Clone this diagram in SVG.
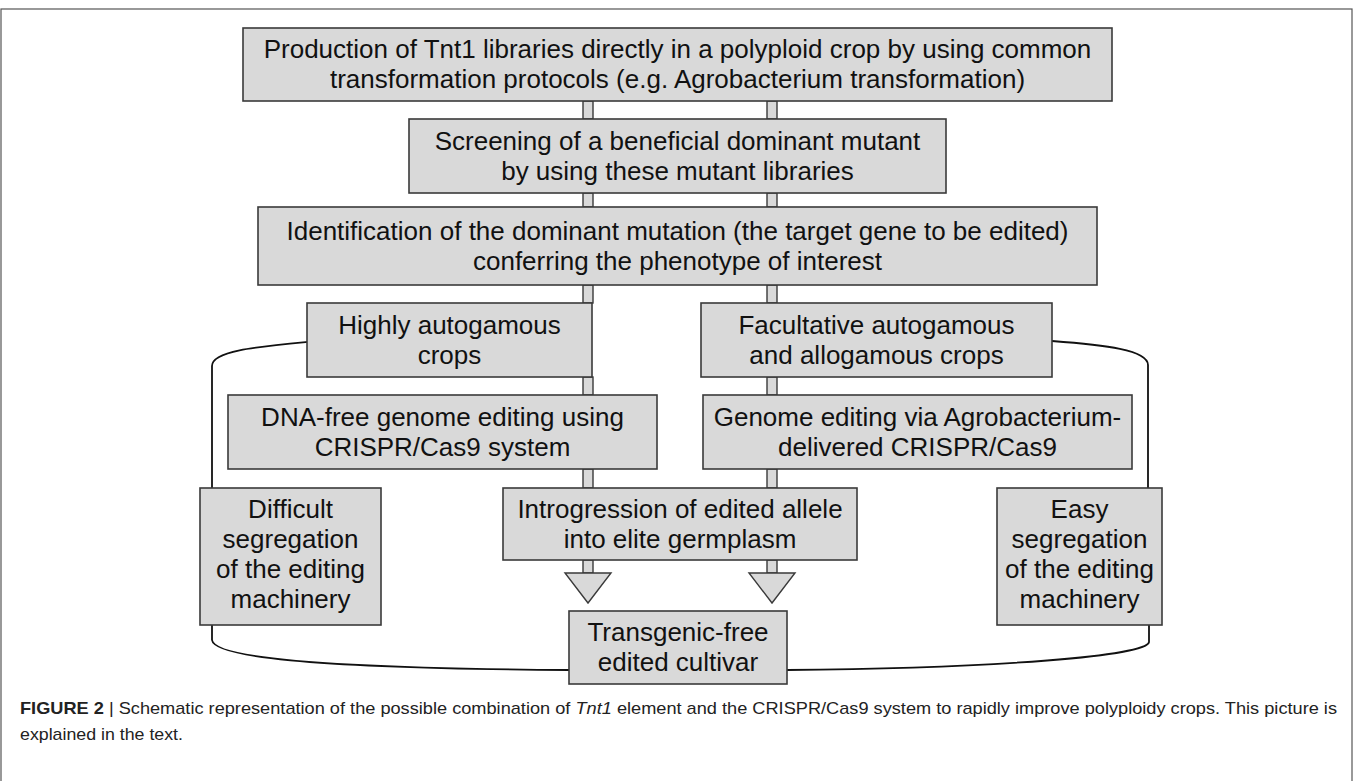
<svg xmlns="http://www.w3.org/2000/svg" width="1358" height="781" viewBox="0 0 1358 781">
<style>
.box{fill:#d9d9d9;stroke:#3a3a3a;stroke-width:1.6}
.stub{fill:#d9d9d9;stroke:#3a3a3a;stroke-width:1.4}
.t{font-family:"Liberation Sans",Arial,sans-serif;font-size:26px;fill:#111;text-anchor:middle}
.line{fill:none;stroke:#111;stroke-width:1.8}
.cap{font-family:"Liberation Sans",Arial,sans-serif;font-size:17px;fill:#222}
</style>
<rect x="0" y="0" width="1358" height="781" fill="#fff"/>
<rect x="1" y="9" width="1351" height="790" fill="none" stroke="#555" stroke-width="1.2"/>
<g id="connectors">
<rect class="stub" x="583" y="101" width="10" height="18"/>
<rect class="stub" x="767" y="101" width="10" height="18"/>
<rect class="stub" x="583" y="193" width="10" height="14"/>
<rect class="stub" x="767" y="193" width="10" height="14"/>
<rect class="stub" x="583" y="285" width="10" height="18"/>
<rect class="stub" x="767" y="285" width="10" height="18"/>
<rect class="stub" x="583" y="377" width="10" height="18"/>
<rect class="stub" x="767" y="377" width="10" height="18"/>
<rect class="stub" x="583" y="469" width="10" height="19"/>
<rect class="stub" x="767" y="469" width="10" height="19"/>
<rect class="stub" x="583" y="560" width="10" height="13"/>
<rect class="stub" x="767" y="560" width="10" height="13"/>
<polygon class="stub" points="565,573 611,573 588,603"/>
<polygon class="stub" points="749,573 795,573 772,603"/>
<path class="line" d="M307,342 C255,347 212,351 212,366 V488"/>
<path class="line" d="M212,625 V640 C214,656 300,668 569,670"/>
<path class="line" d="M1052,341 C1105,345 1148,350 1148,365 V488"/>
<path class="line" d="M1149,625 V642 C1147,656 1000,668 787,670"/>
</g>
<g id="n1"><rect class="box" x="243" y="28" width="869" height="73"/>
<text class="t" x="677.5" y="58">Production of Tnt1 libraries directly in a polyploid crop by using common</text>
<text class="t" x="677.5" y="88">transformation protocols (e.g. Agrobacterium transformation)</text></g>
<g id="n2"><rect class="box" x="409" y="119" width="537" height="74"/>
<text class="t" x="677.5" y="149.5">Screening of a beneficial dominant mutant</text>
<text class="t" x="677.5" y="179.5">by using these mutant libraries</text></g>
<g id="n3"><rect class="box" x="258" y="207" width="839" height="78"/>
<text class="t" x="677.5" y="239.5">Identification of the dominant mutation (the target gene to be edited)</text>
<text class="t" x="677.5" y="269.5">conferring the phenotype of interest</text></g>
<g id="n4"><rect class="box" x="307" y="303" width="285" height="74"/>
<text class="t" x="449.5" y="333.5">Highly autogamous</text>
<text class="t" x="449.5" y="363.5">crops</text></g>
<g id="n5"><rect class="box" x="701" y="303" width="351" height="74"/>
<text class="t" x="876.5" y="333.5">Facultative autogamous</text>
<text class="t" x="876.5" y="363.5">and allogamous crops</text></g>
<g id="n6"><rect class="box" x="228" y="395" width="429" height="74"/>
<text class="t" x="442.5" y="425.5">DNA-free genome editing using</text>
<text class="t" x="442.5" y="455.5">CRISPR/Cas9 system</text></g>
<g id="n7"><rect class="box" x="703" y="395" width="429" height="74"/>
<text class="t" x="917.5" y="425.5">Genome editing via Agrobacterium-</text>
<text class="t" x="917.5" y="455.5">delivered CRISPR/Cas9</text></g>
<g id="n8"><rect class="box" x="200" y="488" width="181" height="137"/>
<text class="t" x="290.5" y="518">Difficult</text>
<text class="t" x="290.5" y="548">segregation</text>
<text class="t" x="290.5" y="578">of the editing</text>
<text class="t" x="290.5" y="608">machinery</text></g>
<g id="n9"><rect class="box" x="503" y="488" width="354" height="72"/>
<text class="t" x="680" y="517.5">Introgression of edited allele</text>
<text class="t" x="680" y="547.5">into elite germplasm</text></g>
<g id="n10"><rect class="box" x="997" y="488" width="165" height="137"/>
<text class="t" x="1079.5" y="518">Easy</text>
<text class="t" x="1079.5" y="548">segregation</text>
<text class="t" x="1079.5" y="578">of the editing</text>
<text class="t" x="1079.5" y="608">machinery</text></g>
<g id="n11"><rect class="box" x="569" y="611" width="218" height="73"/>
<text class="t" x="678" y="641">Transgenic-free</text>
<text class="t" x="678" y="671">edited cultivar</text></g>
<g id="caption">
<text class="cap" x="20" y="714" textLength="1317" lengthAdjust="spacingAndGlyphs"><tspan font-weight="bold">FIGURE 2</tspan> | Schematic representation of the possible combination of <tspan font-style="italic">Tnt1</tspan> element and the CRISPR/Cas9 system to rapidly improve polyploidy crops. This picture is</text>
<text class="cap" x="20" y="740" textLength="163" lengthAdjust="spacingAndGlyphs">explained in the text.</text>
</g>
</svg>
